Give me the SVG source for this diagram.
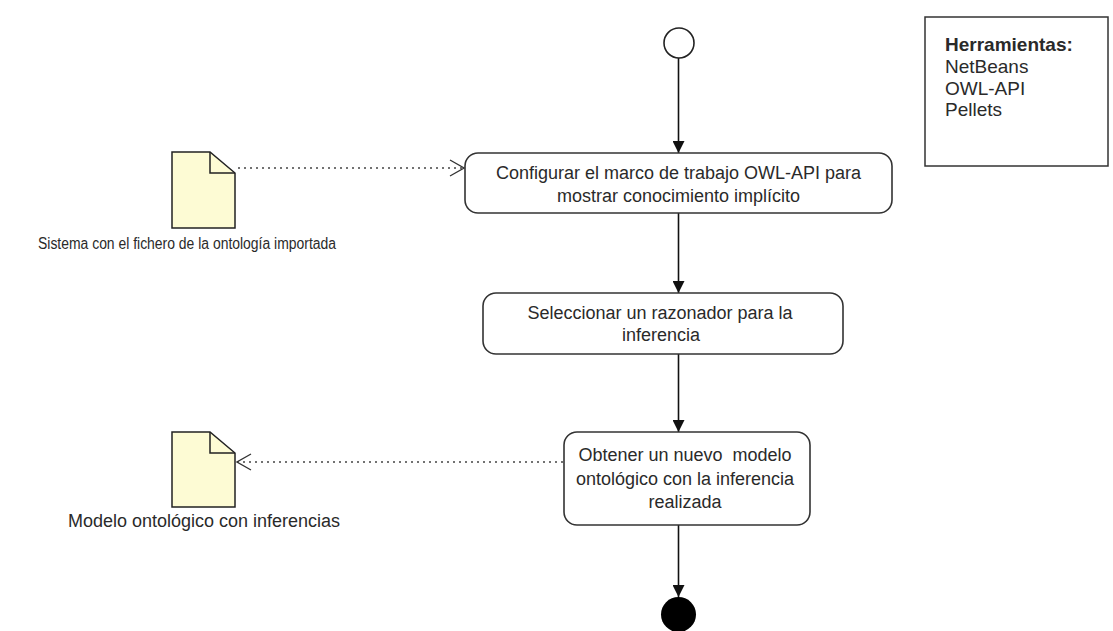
<svg xmlns="http://www.w3.org/2000/svg" width="1113" height="631" viewBox="0 0 1113 631">
  <defs>
    <marker id="solid-head" viewBox="0 0 12 12" refX="12" refY="6" markerWidth="12" markerHeight="12" markerUnits="userSpaceOnUse" orient="auto">
      <path d="M0,0 L12,6 L0,12 Z" fill="#111"/>
    </marker>
    <marker id="open-head" viewBox="0 0 16 18" refX="15" refY="9" markerWidth="16" markerHeight="18" markerUnits="userSpaceOnUse" orient="auto">
      <path d="M1,1 L15,9 L1,17" fill="none" stroke="#333" stroke-width="1.3"/>
    </marker>
    <style>
      .action { fill: #ffffff; stroke: #333333; stroke-width: 1.6; }
      .doc { fill: #fdfbd4; stroke: #222222; stroke-width: 1.5; stroke-linejoin: miter; }
      .fold { fill: none; stroke: #222222; stroke-width: 1.5; }
      .txt { font-family: "Liberation Sans", Arial, sans-serif; font-size: 18px; fill: #2a2a2a; }
      .mid { text-anchor: middle; }
      .flow { stroke: #111; stroke-width: 1.6; fill: none; marker-end: url(#solid-head); }
      .dep { stroke: #444; stroke-width: 1.3; fill: none; stroke-dasharray: 2 4; marker-end: url(#open-head); }
      .note { fill: #ffffff; stroke: #333333; stroke-width: 1.5; }
    </style>
  </defs>

  <rect width="1113" height="631" fill="#ffffff"/>

  <!-- control flow and object flow edges -->
  <g id="connectors">
    <line class="flow" x1="678.5" y1="58" x2="678.5" y2="153"/>
    <line class="flow" x1="678.5" y1="213" x2="678.5" y2="293"/>
    <line class="flow" x1="678.5" y1="354" x2="678.5" y2="432"/>
    <line class="flow" x1="678.5" y1="525" x2="678.5" y2="597"/>
    <line class="dep" x1="238" y1="168" x2="464" y2="168"/>
    <line class="dep" x1="563" y1="462" x2="237" y2="462"/>
  </g>

  <g id="initial">
    <circle cx="679" cy="43" r="15" fill="#ffffff" stroke="#222" stroke-width="1.6"/>
  </g>

  <g id="configurar">
    <rect class="action" x="465" y="153" width="427" height="60" rx="13" ry="13"/>
    <text class="txt mid" x="678.5" y="179">Configurar el marco de trabajo OWL-API para</text>
    <text class="txt mid" x="678.5" y="202">mostrar conocimiento implícito</text>
  </g>

  <g id="seleccionar">
    <rect class="action" x="483" y="293" width="360" height="61" rx="13" ry="13"/>
    <text class="txt mid" x="660" y="319">Seleccionar un razonador para la</text>
    <text class="txt mid" x="661" y="341">inferencia</text>
  </g>

  <g id="obtener">
    <rect class="action" x="564" y="432" width="246" height="93" rx="13" ry="13"/>
    <text class="txt mid" x="685" y="461" xml:space="preserve">Obtener un nuevo  modelo</text>
    <text class="txt mid" x="685" y="485">ontológico con la inferencia</text>
    <text class="txt mid" x="685" y="508">realizada</text>
  </g>

  <g id="final">
    <circle cx="678.5" cy="614.5" r="17.5" fill="#000000"/>
  </g>

  <g id="sistema-ontologia">
    <path class="doc" d="M172,152 L210,152 L235,173 L235,228 L172,228 Z"/>
    <path class="fold" d="M210,152 L210,173 L235,173"/>
    <text class="txt" x="38" y="249" style="font-size:16px" textLength="298" lengthAdjust="spacingAndGlyphs">Sistema con el fichero de la ontología importada</text>
  </g>

  <g id="modelo-inferencias">
    <path class="doc" d="M172,432 L210,432 L235,453 L235,507 L172,507 Z"/>
    <path class="fold" d="M210,432 L210,453 L235,453"/>
    <text class="txt mid" x="204" y="527">Modelo ontológico con inferencias</text>
  </g>

  <g id="herramientas">
    <rect class="note" x="925" y="17" width="183" height="149"/>
    <text class="txt" x="945" y="51" style="font-size:19px;font-weight:bold">Herramientas:</text>
    <text class="txt" x="945" y="73" style="font-size:19px">NetBeans</text>
    <text class="txt" x="945" y="95" style="font-size:19px">OWL-API</text>
    <text class="txt" x="945" y="116" style="font-size:19px">Pellets</text>
  </g>
</svg>
